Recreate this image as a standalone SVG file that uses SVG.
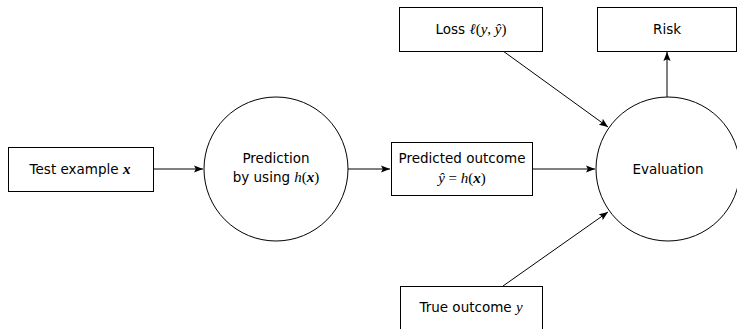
<svg xmlns="http://www.w3.org/2000/svg" width="737" height="329" viewBox="0 0 737 329">
<style>
.n{fill:#fff;stroke:#000;stroke-width:1}
.t{font-family:"DejaVu Sans","Liberation Sans",sans-serif;font-size:13.5px;fill:#000;text-anchor:middle}
.m{font-family:"Liberation Serif","DejaVu Serif",serif;font-style:italic;font-size:15px}
.b{font-weight:bold}
.r{font-style:normal}
.e{stroke:#000;stroke-width:1;fill:none;marker-end:url(#a)}
</style>
<defs>
<marker id="a" viewBox="0 0 10 8" refX="10" refY="4" markerWidth="9" markerHeight="7.2" markerUnits="userSpaceOnUse" orient="auto">
<path d="M0,0 L10,4 L0,8 L2,4 Z" fill="#000"/>
</marker>
</defs>
<g id="edges">
<line class="e" x1="153" y1="169" x2="203" y2="169"/>
<line class="e" x1="348" y1="169" x2="390" y2="169"/>
<line class="e" x1="532" y1="169" x2="595" y2="169"/>
<line class="e" x1="503" y1="51" x2="608" y2="127"/>
<line class="e" x1="503" y1="286" x2="608" y2="212"/>
<line class="e" x1="667" y1="97" x2="667" y2="52"/>
</g>
<g id="test">
<rect class="n" x="8.5" y="147.5" width="145" height="44"/>
<text class="t" x="80" y="174">Test example <tspan class="m b">x</tspan></text>
</g>
<g id="prediction">
<circle class="n" cx="276" cy="169" r="72"/>
<text class="t" x="276" y="163">Prediction</text>
<text class="t" x="276" y="182">by using <tspan class="m">h</tspan><tspan class="m r">(</tspan><tspan class="m b">x</tspan><tspan class="m r">)</tspan></text>
</g>
<g id="predicted">
<rect class="n" x="391.5" y="142.5" width="141" height="53"/>
<text class="t" x="462" y="163">Predicted outcome</text>
<text class="t" x="462" y="183"><tspan class="m">ŷ</tspan><tspan class="m r"> = </tspan><tspan class="m">h</tspan><tspan class="m r">(</tspan><tspan class="m b">x</tspan><tspan class="m r">)</tspan></text>
</g>
<g id="evaluation">
<circle class="n" cx="668" cy="169" r="72"/>
<text class="t" x="668" y="174">Evaluation</text>
</g>
<g id="loss">
<rect class="n" x="399.5" y="7.5" width="143" height="44"/>
<text class="t" x="471" y="34">Loss <tspan class="m">ℓ</tspan><tspan class="m r">(</tspan><tspan class="m">y</tspan><tspan class="m r">, </tspan><tspan class="m">ŷ</tspan><tspan class="m r">)</tspan></text>
</g>
<g id="risk">
<rect class="n" x="597.5" y="7.5" width="139" height="44"/>
<text class="t" x="667" y="34">Risk</text>
</g>
<g id="true">
<rect class="n" x="400.5" y="286.5" width="142" height="50"/>
<text class="t" x="471" y="312">True outcome <tspan class="m">y</tspan></text>
</g>
</svg>
